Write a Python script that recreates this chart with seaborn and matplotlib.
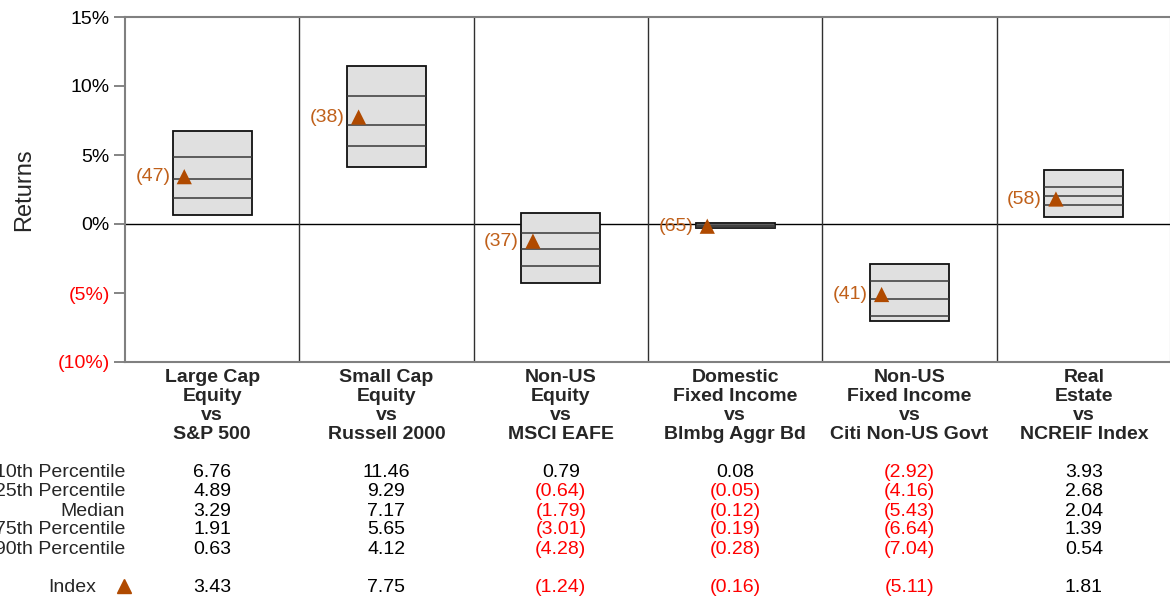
import numpy as np
import pandas as pd
import seaborn as sns
import matplotlib.pyplot as plt
from matplotlib.transforms import blended_transform_factory

# percentile data
categories = ["Large Cap\nEquity\nvs\nS&P 500",
              "Small Cap\nEquity\nvs\nRussell 2000",
              "Non-US\nEquity\nvs\nMSCI EAFE",
              "Domestic\nFixed Income\nvs\nBlmbg Aggr Bd",
              "Non-US\nFixed Income\nvs\nCiti Non-US Govt",
              "Real\nEstate\nvs\nNCREIF Index"]
p10 = [6.76, 11.46, 0.79, 0.08, -2.92, 3.93]
p25 = [4.89, 9.29, -0.64, -0.05, -4.16, 2.68]
median = [3.29, 7.17, -1.79, -0.12, -5.43, 2.04]
p75 = [1.91, 5.65, -3.01, -0.19, -6.64, 1.39]
p90 = [0.63, 4.12, -4.28, -0.28, -7.04, 0.54]
index_ret = [3.43, 7.75, -1.24, -0.16, -5.11, 1.81]
index_rank = [47, 38, 37, 65, 41, 58]
row_labels = ["10th Percentile", "25th Percentile", "Median",
              "75th Percentile", "90th Percentile"]
yticks = [-10, -5, 0, 5, 10, 15]

sns.set_style("white")
plt.rcParams['font.family'] = ['Liberation Sans', 'DejaVu Sans']

ORANGE = '#B04A00'
LABEL_ORANGE = '#C0601A'
RED = '#FF0000'
FS = 14


def fmt(v):
    return f"({abs(v):.2f})" if v < 0 else f"{v:.2f}"


fig = plt.figure(figsize=(11.7, 5.96), dpi=100)
ax = fig.add_axes([125 / 1170, 1 - 362 / 596, 1046 / 1170, 345 / 596])

x = np.arange(len(categories))
width = 0.454

# floating boxes 10th -> 90th
ax.bar(x, np.array(p10) - np.array(p90), bottom=p90, width=width,
       color='#E0E0E0', edgecolor='#101010', linewidth=1.3, zorder=3)
for vals in (p25, median, p75):
    ax.hlines(vals, x - width / 2, x + width / 2, color='#383838', lw=1.1, zorder=4)

df = pd.DataFrame({'x': x - 0.16, 'ret': index_ret, 'rank': index_rank})
sns.scatterplot(data=df, x='x', y='ret', marker='^', s=120, color=ORANGE,
                edgecolor='none', ax=ax, zorder=5, legend=False)
for _, r in df.iterrows():
    ax.annotate(f"({int(r['rank'])})", (r['x'], r['ret']), xytext=(-10, 0),
                textcoords='offset points', ha='right', va='center',
                color=LABEL_ORANGE, fontsize=FS)

ax.axhline(0, color='black', lw=1, zorder=2)
for b in x[1:] - 0.5:
    ax.axvline(b, color='#303030', lw=1, zorder=2)

ax.set_xlim(-0.5, len(categories) - 0.5)
ax.set_ylim(-10, 15)
ax.set_yticks(yticks)
ax.set_yticklabels([f"({abs(t)}%)" if t < 0 else f"{t}%" for t in yticks], fontsize=FS)
for lbl, t in zip(ax.get_yticklabels(), yticks):
    lbl.set_color(RED if t < 0 else 'black')
ax.tick_params(axis='y', length=8, width=1.2, color='#707070', left=True, pad=3)
ax.set_xticks([])
ax.set_xlabel('')
ax.set_ylabel('Returns', fontsize=17, labelpad=16)
for s in ax.spines.values():
    s.set_color('#808080')
    s.set_linewidth(1.5)

# category labels under the plot
tr = blended_transform_factory(ax.transData, ax.transAxes)
for xi, c in zip(x, categories):
    ax.text(xi, -0.019, c, transform=tr, ha='center', va='top',
            fontsize=FS, fontweight='bold', linespacing=1.16)

# table of percentile values
row_y = [473, 492, 511, 530, 550]
tbl = [p10, p25, median, p75, p90]
for lab, yy, vals in zip(row_labels, row_y, tbl):
    ya = (362 - yy) / 345
    ax.text(0, ya, lab, transform=ax.transAxes, ha='right', va='center', fontsize=FS)
    for xi, v in zip(x, vals):
        ax.text(xi, ya, fmt(v), transform=tr, ha='center', va='center',
                fontsize=FS, color=RED if v < 0 else 'black')

ya = (362 - 588) / 345
ax.text(-29 / 1046, ya, 'Index', transform=ax.transAxes, ha='right', va='center', fontsize=FS)
ax.plot([-1 / 1046], [(362 - 586) / 345], marker='^', ms=10, color=ORANGE,
        transform=ax.transAxes, clip_on=False, ls='none')
for xi, v in zip(x, index_ret):
    ax.text(xi, ya, fmt(v), transform=tr, ha='center', va='center',
            fontsize=FS, color=RED if v < 0 else 'black')

fig.savefig('out.png', dpi=100)
